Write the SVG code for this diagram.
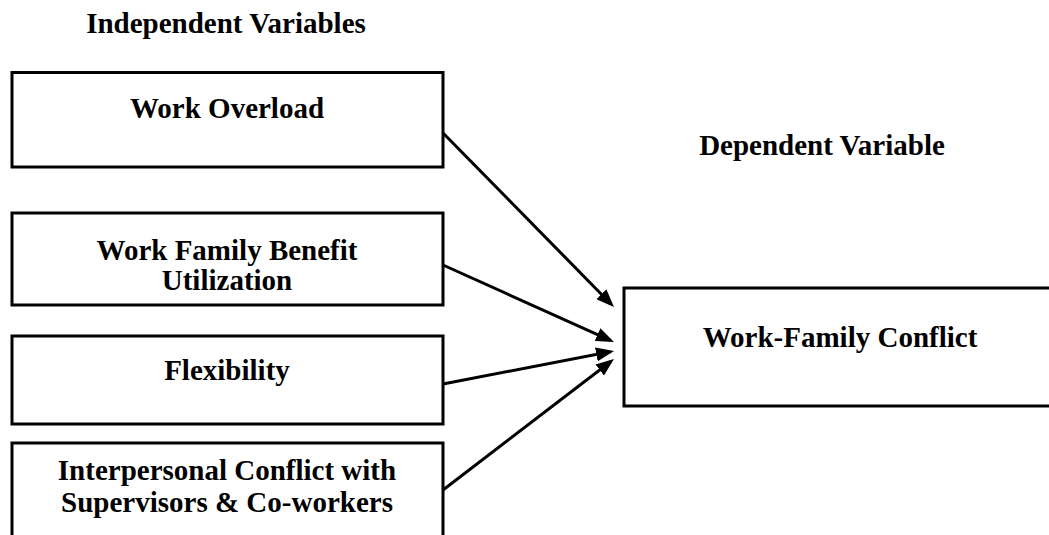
<svg xmlns="http://www.w3.org/2000/svg" width="1049" height="535" viewBox="0 0 1049 535">
<style>
.box{fill:#fff;stroke:#000;stroke-width:3}
.t{font-family:"Liberation Serif","Times New Roman",serif;font-weight:bold;font-size:29px;fill:#000;text-anchor:middle}
.c{stroke:#000;stroke-width:3;fill:none;marker-end:url(#ah)}
</style>
<defs>
<marker id="ah" markerUnits="userSpaceOnUse" markerWidth="18" markerHeight="14" refX="14" refY="7" orient="auto">
<path d="M0,0 L18,7 L0,14 Z" fill="#000"/>
</marker>
</defs>
<rect width="1049" height="535" fill="#fff"/>
<text class="t" x="226" y="33">Independent Variables</text>
<text class="t" x="822" y="155">Dependent Variable</text>
<g id="n1"><rect class="box" x="12" y="72.5" width="431" height="94.5"/><text class="t" x="227" y="118">Work Overload</text></g>
<g id="n2"><rect class="box" x="12" y="213" width="431" height="92"/><text class="t" x="227" y="260">Work Family Benefit</text><text class="t" x="227" y="290">Utilization</text></g>
<g id="n3"><rect class="box" x="12" y="336" width="431" height="88"/><text class="t" x="227" y="380">Flexibility</text></g>
<g id="n4"><rect class="box" x="12" y="443" width="431" height="110"/><text class="t" x="227" y="480">Interpersonal Conflict with</text><text class="t" x="227" y="512">Supervisors &amp; Co-workers</text></g>
<g id="n5"><rect class="box" x="624" y="288" width="440" height="118"/><text class="t" x="840" y="347">Work-Family Conflict</text></g>
<g id="connectors">
<line class="c" x1="443" y1="133" x2="611.2" y2="304.2"/>
<line class="c" x1="443" y1="265" x2="610.3" y2="340.4"/>
<line class="c" x1="443" y1="384" x2="610.1" y2="351.8"/>
<line class="c" x1="443" y1="490" x2="610.8" y2="361.5"/>
</g>
</svg>
